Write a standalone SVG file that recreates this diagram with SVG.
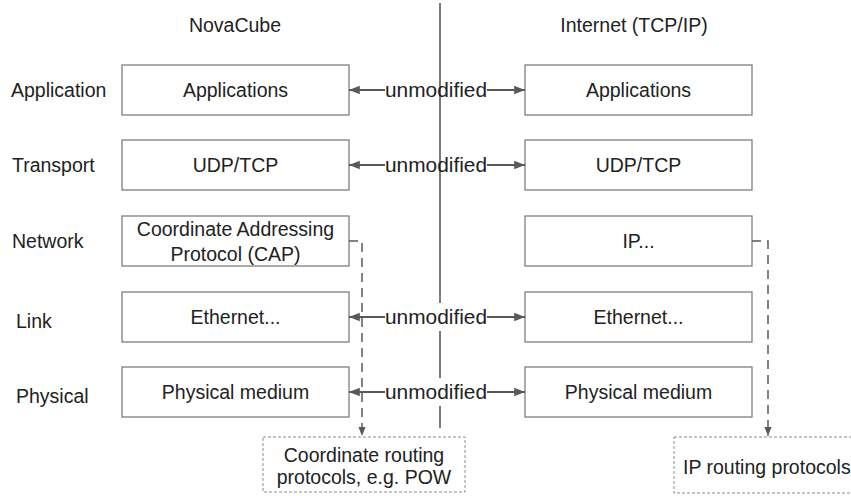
<svg xmlns="http://www.w3.org/2000/svg" width="851" height="496" viewBox="0 0 851 496">
  <defs>
    <marker id="arrow" viewBox="0 0 10 10" refX="10" refY="5" markerWidth="6" markerHeight="6" markerUnits="strokeWidth" orient="auto-start-reverse">
      <path d="M0,1 L10,5 L0,9 z" fill="#595959"/>
    </marker>
    <style>
      text { font-family: "Liberation Sans", Arial, sans-serif; font-size: 19.5px; fill: #222222; }
      .mid { text-anchor: middle; }
      .layer rect { fill: #ffffff; stroke: #7f7f7f; stroke-width: 1.3; }
      .ext rect { fill: #ffffff; stroke: #8c8c8c; stroke-width: 1; stroke-dasharray: 3 2; }
      .link { fill: none; stroke: #595959; stroke-width: 1.8; }
      .dash { fill: none; stroke: #595959; stroke-width: 1.5; stroke-dasharray: 9 6; }
      .lbl-bg { fill: #ffffff; }
    </style>
  </defs>
  <rect width="851" height="496" fill="#ffffff"/>

  <!-- column headers -->
  <text class="mid" x="235" y="32">NovaCube</text>
  <text class="mid" x="634" y="32">Internet (TCP/IP)</text>

  <!-- layer names -->
  <text x="11" y="97">Application</text>
  <text x="12" y="172">Transport</text>
  <text x="12" y="248">Network</text>
  <text x="16" y="328">Link</text>
  <text x="16" y="403">Physical</text>

  <!-- divider between the two stacks -->
  <line x1="440" y1="3" x2="440" y2="428" stroke="#595959" stroke-width="1.6"/>

  <!-- NovaCube stack -->
  <g id="nc-app" class="layer"><rect x="122" y="65" width="227" height="50"/><text class="mid" x="235.5" y="97">Applications</text></g>
  <g id="nc-transport" class="layer"><rect x="122" y="140" width="227" height="50"/><text class="mid" x="235.5" y="172">UDP/TCP</text></g>
  <g id="nc-network" class="layer"><rect x="122" y="216" width="227" height="50"/><text class="mid" x="235.5" y="236">Coordinate Addressing</text><text class="mid" x="235.5" y="261">Protocol (CAP)</text></g>
  <g id="nc-link" class="layer"><rect x="122" y="292" width="227" height="50"/><text class="mid" x="235.5" y="324">Ethernet...</text></g>
  <g id="nc-phys" class="layer"><rect x="122" y="367" width="227" height="50"/><text class="mid" x="235.5" y="399">Physical medium</text></g>

  <!-- Internet stack -->
  <g id="ip-app" class="layer"><rect x="525" y="65" width="227" height="50"/><text class="mid" x="638.5" y="97">Applications</text></g>
  <g id="ip-transport" class="layer"><rect x="525" y="140" width="227" height="50"/><text class="mid" x="638.5" y="172">UDP/TCP</text></g>
  <g id="ip-network" class="layer"><rect x="525" y="216" width="227" height="50"/><text class="mid" x="638.5" y="248">IP...</text></g>
  <g id="ip-link" class="layer"><rect x="525" y="292" width="227" height="50"/><text class="mid" x="638.5" y="324">Ethernet...</text></g>
  <g id="ip-phys" class="layer"><rect x="525" y="367" width="227" height="50"/><text class="mid" x="638.5" y="399">Physical medium</text></g>

  <!-- routing protocol boxes -->
  <g id="nc-routing" class="ext"><rect x="263" y="437" width="202" height="55"/><text class="mid" x="364" y="462">Coordinate routing</text><text class="mid" x="364" y="484">protocols, e.g. POW</text></g>
  <g id="ip-routing" class="ext"><rect x="674" y="437" width="190" height="56"/><text x="683" y="474">IP routing protocols</text></g>

  <!-- connectors -->
  <g id="connectors">
    <path class="dash" d="M349,241 H362 V436" marker-end="url(#arrow)"/>
    <path class="dash" d="M752,241 H768 V436" marker-end="url(#arrow)"/>

    <line class="link" x1="349" y1="90" x2="385" y2="90" marker-start="url(#arrow)"/>
    <line class="link" x1="487" y1="90" x2="525" y2="90" marker-end="url(#arrow)"/>
    <text x="385" y="97" textLength="102" lengthAdjust="spacingAndGlyphs">unmodified</text>

    <line class="link" x1="349" y1="165" x2="385" y2="165" marker-start="url(#arrow)"/>
    <line class="link" x1="487" y1="165" x2="525" y2="165" marker-end="url(#arrow)"/>
    <text x="385" y="172" textLength="102" lengthAdjust="spacingAndGlyphs">unmodified</text>

    <rect class="lbl-bg" x="385" y="303" width="102" height="28"/>
    <line class="link" x1="349" y1="317" x2="385" y2="317" marker-start="url(#arrow)"/>
    <line class="link" x1="487" y1="317" x2="525" y2="317" marker-end="url(#arrow)"/>
    <text x="385" y="324" textLength="102" lengthAdjust="spacingAndGlyphs">unmodified</text>

    <rect class="lbl-bg" x="385" y="378" width="102" height="28"/>
    <line class="link" x1="349" y1="392" x2="385" y2="392" marker-start="url(#arrow)"/>
    <line class="link" x1="487" y1="392" x2="525" y2="392" marker-end="url(#arrow)"/>
    <text x="385" y="399" textLength="102" lengthAdjust="spacingAndGlyphs">unmodified</text>
  </g>
</svg>
